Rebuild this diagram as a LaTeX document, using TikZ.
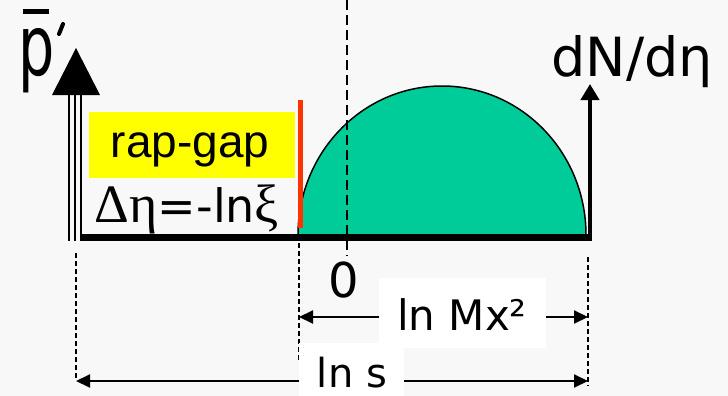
\documentclass[tikz,border=0pt]{standalone}
\usepackage{fontspec}
\setmainfont{DejaVu Sans}
\newfontfamily\arialf{Liberation Sans}
\newfontfamily\serif{Liberation Serif}
\usetikzlibrary{arrows.meta}
\definecolor{bgc}{RGB}{248,248,248}
\definecolor{halo}{RGB}{0,204,153}
\definecolor{gapred}{RGB}{255,51,0}
\definecolor{gapyellow}{RGB}{255,255,0}
\begin{document}
\begin{tikzpicture}[x=1pt,y=-1pt,
  dimline/.style={line width=2,{Triangle[length=14pt,width=13pt]}-{Triangle[length=14pt,width=13pt]}},
  guide/.style={line width=1.5,dash pattern=on 5pt off 3pt},
  center guide/.style={line width=2,dash pattern=on 10pt off 5pt},
  lbl/.style={inner sep=0pt,font=\fontsize{44}{48}\selectfont},
  whitebox/.style={fill=white,inner sep=0pt,draw=none}]
\useasboundingbox (0,0) rectangle (728,396);
\fill[bgc] (0,0) rectangle (728,396);
% coordinates
\coordinate (origin) at (80,237);
\coordinate (xend) at (592,237);
\coordinate (rtop) at (590,84);
\coordinate (rbot) at (590,240);
% halo (half ellipse)
\filldraw[fill=halo,draw=black,line width=1.5] (298,235) arc[start angle=180,end angle=360,x radius=144,y radius=149] -- cycle;
% centre dashed line
\coordinate (c0) at (347,0);
\coordinate (c1) at (347,256);
\draw[center guide] (c0) -- (c1);
% horizontal axis
\draw[line width=7] (origin) -- (xend);
% right axis
\draw[line width=4.5,-{Triangle[length=16pt,width=18pt]}] (rbot) -- (rtop);
% left axis (triple line with big head)
\foreach \xx in {69,75,81} \draw[line width=2.5] (\xx,94) -- (\xx,241);
\fill (76,48) -- (52,95) -- (100,95) -- cycle;
% p-bar-prime label
\node[inner sep=0pt,anchor=base] (pl) at (37,76) {\fontsize{84}{84}\selectfont\scalebox{0.68}[1]{p}};
\draw[line width=5] (23,12) -- (49,12);
\draw[line width=4,line cap=round] (63,24) -- (59,34);
% dN/deta label
\node[lbl,anchor=base,font=\fontsize{54}{54}\selectfont] (dn) at (632,77) {dN/dη};
% red line
\draw[gapred,line width=5] (300,100) -- (300,228);
% yellow box
\node[fill=gapyellow,minimum width=206,minimum height=66,inner sep=0pt,anchor=north west] (gapbox) at (89,112) {};
\node[inner sep=0pt,anchor=base,font=\arialf\fontsize{46}{46}\selectfont] (gaptxt) at (190,157) {rap-gap};
\node[inner sep=0pt,anchor=base,font=\fontsize{46}{46}\selectfont] (deta) at (187,222) {{\serif\fontsize{54}{54}\selectfont Δη}=-ln{\serif\fontsize{54}{54}\selectfont ξ}};
% zero
\node[inner sep=0pt,anchor=base,font=\fontsize{48}{48}\selectfont] (zero) at (344,297) {0};
% lower guides
\coordinate (gl0) at (76,253); \coordinate (gl1) at (76,380);
\coordinate (gm0) at (299,243); \coordinate (gm1) at (299,360);
\coordinate (gr0) at (588,257); \coordinate (gr1) at (588,386);
\draw[guide] (gl0) -- (gl1);
\draw[guide] (gm0) -- (gm1);
\draw[guide] (gr0) -- (gr1);
% ln Mx^2 dimension
\coordinate (m0) at (299,317); \coordinate (m1) at (588,317);
\draw[dimline] (m0) -- (m1);
\node[whitebox,minimum width=167,minimum height=70] (mbox) at (462,313) {};
\node[lbl,anchor=base,font=\fontsize{42}{42}\selectfont] (mtxt) at (462,330) {ln Mx²};
% ln s dimension
\coordinate (s0) at (76,381); \coordinate (s1) at (588,381);
\draw[dimline] (s0) -- (s1);
\node[whitebox,minimum width=105,minimum height=53,anchor=north west] (sbox) at (299,343) {};
\node[lbl,anchor=base,text depth=0pt,font=\fontsize{40}{40}\selectfont] (stxt) at (352,387) {ln s};
\end{tikzpicture}
\end{document}
